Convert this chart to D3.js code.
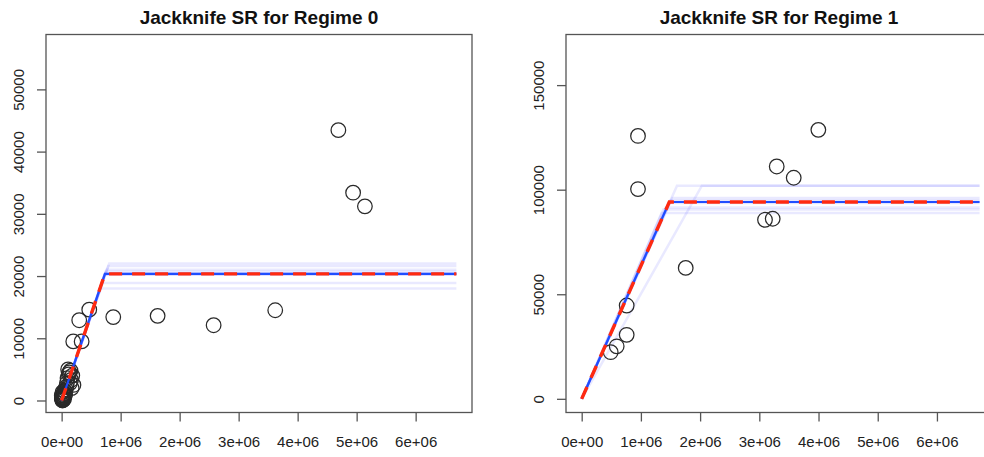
<!DOCTYPE html>
<html><head><meta charset="utf-8">
<script src="https://cdn.jsdelivr.net/npm/d3@7"></script>
<style>
body{margin:0;background:#fff;}
svg{display:block;font-family:"Liberation Sans",Arial,Helvetica,sans-serif;}
</style></head>
<body>
<svg id="chart" width="984" height="457"></svg>
<script>
// ---------- data ----------
const titles = ["Jackknife SR for Regime 0", "Jackknife SR for Regime 1"];
const xTickValues = [0, 1e6, 2e6, 3e6, 4e6, 5e6, 6e6];
const xTickLabels = ["0e+00", "1e+06", "2e+06", "3e+06", "4e+06", "5e+06", "6e+06"];
const yTickValues0 = [0, 10000, 20000, 30000, 40000, 50000];
const yTickValues1 = [0, 50000, 100000, 150000];

// Regime 0 observations (spawners, recruits)
const obsX0 = [468000, 298000, 875000, 1627000, 2576000, 3620000, 197000, 339000,
  4690000, 4940000, 5140000,
  150000, 120000, 180000, 100000, 160000, 140000, 200000, 80000, 170000, 110000, 130000, 90000,
  50000, 40000, 60000, 30000, 20000, 10000, 20000, 10000, 30000, 50000, 70000, 15000, 25000, 5000, 35000,
  8000, 12000, 18000, 22000, 28000, 6000, 14000, 40000, 45000, 3000];
const obsY0 = [14600, 12900, 13400, 13600, 12100, 14500, 9500, 9500,
  43450, 33400, 31200,
  4800, 4200, 4000, 3600, 3300, 2800, 2500, 2200, 2000, 5000, 4500, 2800,
  1500, 1200, 1000, 800, 600, 300, 200, 100, 400, 700, 1800, 0, 150, 500, 1100,
  250, 450, 50, 900, 350, 600, 1300, 200, 1600, 800];

// Regime 1 observations
const obsX1 = [951000, 951000, 3997000, 3294000, 3581000, 3096000, 3226000, 1757000,
  760000, 760000, 591000, 490000];
const obsY1 = [125700, 100300, 128600, 111100, 105700, 85600, 86100, 62600,
  44600, 30600, 25100, 22300];

// fitted hockey-stick (breakpoint, plateau)
const fitBreak = [734000, 1480000];
const fitPlateau = [20350, 94100];
const fitXmax = [6690000, 6720000];

// jackknife fits (breakpoint, plateau)
const jackBreak0 = [807000, 790000, 760000, 745000, 730000, 735000, 725000, 690000, 660000];
const jackPlateau0 = [22000, 21600, 21000, 20700, 20300, 20400, 20200, 18900, 18000];
const jackBreak1 = [2030000, 1610000, 1530000, 1500000, 1480000, 1470000, 1420000, 1380000, 1350000];
const jackPlateau1 = [101900, 101900, 96000, 95000, 94100, 93600, 91500, 90500, 88800];

// ---------- drawing ----------
const svg = d3.select("#chart");
const W = 426, plotTop = 34.5, plotBottom = 412.5;
const panels = [
  {left: 46, xDom: [-265000, 6955000], yDom: [-1930, 58820], yTicks: yTickValues0,
   obsX: obsX0, obsY: obsY0, jb: jackBreak0, jp: jackPlateau0},
  {left: 566, xDom: [-265000, 6930000], yDom: [-6540, 174200], yTicks: yTickValues1,
   obsX: obsX1, obsY: obsY1, jb: jackBreak1, jp: jackPlateau1}
];

panels.forEach((p, i) => {
  const x = d3.scaleLinear().domain(p.xDom).range([p.left, p.left + W]);
  const y = d3.scaleLinear().domain(p.yDom).range([plotBottom, plotTop]);
  const g = svg.append("g");
  const line = d3.line().x(d => x(d[0])).y(d => y(d[1]));

  // jackknife lines
  p.jb.forEach((b, k) => {
    g.append("path")
      .attr("d", line([[0, 0], [b, p.jp[k]], [fitXmax[i], p.jp[k]]]))
      .attr("fill", "none").attr("stroke", "rgba(40,40,255,0.10)")
      .attr("stroke-width", 2.5);
  });

  // points
  g.selectAll("circle").data(p.obsX).join("circle")
    .attr("cx", d => x(d)).attr("cy", (d, k) => y(p.obsY[k]))
    .attr("r", 7.3).attr("fill", "none").attr("stroke", "#2a2a2a")
    .attr("stroke-width", 1.25);

  const fitPts = [[0, 0], [fitBreak[i], fitPlateau[i]], [fitXmax[i], fitPlateau[i]]];
  g.append("path").attr("d", line(fitPts)).attr("fill", "none")
    .attr("stroke", "#1f4dff").attr("stroke-width", 2.2);
  g.append("path").attr("d", line(fitPts)).attr("fill", "none")
    .attr("stroke", "#ff2a10").attr("stroke-width", 3.4)
    .attr("stroke-dasharray", "13,10");

  // box
  g.append("rect").attr("x", p.left).attr("y", plotTop).attr("width", W)
    .attr("height", plotBottom - plotTop).attr("fill", "none")
    .attr("stroke", "#555").attr("stroke-width", 1.3);

  // x axis
  const xa = g.append("g").attr("transform", `translate(0,${plotBottom})`)
    .call(d3.axisBottom(x).tickValues(xTickValues)
      .tickFormat((d, k) => xTickLabels[k]).tickSize(9).tickSizeOuter(0).tickPadding(15));
  xa.select(".domain").remove();
  xa.selectAll("line").attr("stroke", "#555").attr("stroke-width", 1.3);
  xa.selectAll("text").attr("font-size", 15).attr("fill", "#222")
    .attr("font-family", "Liberation Sans, Arial, sans-serif");

  // y axis
  const ya = g.append("g").attr("transform", `translate(${p.left},0)`)
    .call(d3.axisLeft(y).tickValues(p.yTicks).tickFormat(d3.format("d"))
      .tickSize(9).tickSizeOuter(0));
  ya.select(".domain").remove();
  ya.selectAll("line").attr("stroke", "#555").attr("stroke-width", 1.3);
  ya.selectAll("text").attr("font-size", 15).attr("fill", "#222")
    .attr("font-family", "Liberation Sans, Arial, sans-serif")
    .attr("x", null).attr("dy", null).attr("text-anchor", "middle")
    .attr("transform", "translate(-22.5,0) rotate(-90)");

  // title
  svg.append("text").attr("x", p.left + W / 2).attr("y", 23.5)
    .attr("text-anchor", "middle").attr("font-weight", "bold")
    .attr("font-size", 19).attr("fill", "#111").text(titles[i]);
});
</script>
</body></html>
